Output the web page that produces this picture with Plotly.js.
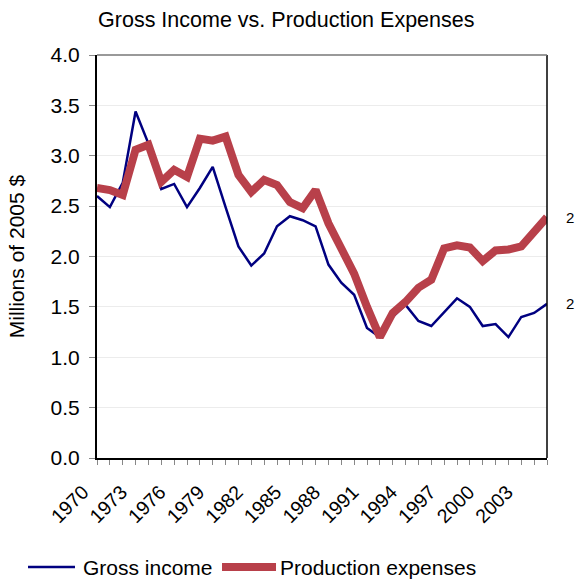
<!DOCTYPE html>
<html>
<head>
<meta charset="utf-8">
<script src="https://cdn.plot.ly/plotly-3.0.1.min.js"></script>
<style>
  html, body { margin: 0; padding: 0; background: #ffffff; }
  #chart { width: 576px; height: 581px; }
</style>
</head>
<body>
<div id="chart"></div>
<script>
const years = [1970,1971,1972,1973,1974,1975,1976,1977,1978,1979,1980,1981,1982,1983,1984,1985,1986,1987,1988,1989,1990,1991,1992,1993,1994,1995,1996,1997,1998,1999,2000,2001,2002,2003,2004,2005];
const grossIncome = [2.60,2.49,2.73,3.44,3.12,2.67,2.72,2.49,2.68,2.89,2.49,2.10,1.91,2.03,2.30,2.40,2.36,2.30,1.92,1.74,1.62,1.29,1.20,1.40,1.52,1.36,1.31,1.45,1.585,1.50,1.31,1.33,1.20,1.40,1.44,1.53];
const productionExpenses = [2.68,2.66,2.61,3.06,3.11,2.74,2.86,2.79,3.17,3.15,3.19,2.81,2.64,2.76,2.71,2.54,2.48,2.66,2.33,2.08,1.83,1.50,1.20,1.44,1.55,1.69,1.77,2.08,2.11,2.09,1.955,2.06,2.07,2.10,2.25,2.39];
const seriesNames = ["Gross income", "Production expenses"];
const seriesColors = ['#000080', '#B8404A'];
const seriesWidths = [2.5, 8];
const yTickVals = [0,0.5,1,1.5,2,2.5,3,3.5,4];
const endLabel = "2";

const FONT = '"Liberation Sans", Arial, sans-serif';

const traces = [
  {
    x: years, y: grossIncome, name: seriesNames[0], type: 'scatter', mode: 'lines',
    line: { color: seriesColors[0], width: seriesWidths[0] }, cliponaxis: false
  },
  {
    x: years, y: productionExpenses, name: seriesNames[1], type: 'scatter', mode: 'lines',
    line: { color: seriesColors[1], width: seriesWidths[1] }, cliponaxis: false
  }
];

// legend geometry (paper coordinates of the plot area)
const legY = -0.2705;
const legendItems = [
  { x0: -0.1533, x1: -0.0489, tx: -0.0333 },
  { x0: 0.2778, x1: 0.3978, tx: 0.4044 }
];

const n = years.length - 1;
const shapes = [
  { type: 'line', xref: 'paper', yref: 'paper', x0: 1, x1: 1, y0: 0, y1: 1, line: { color: '#000000', width: 1.5 } },
  { type: 'line', xref: 'paper', yref: 'paper', x0: 0, x1: 1, y0: 1, y1: 1, line: { color: '#777777', width: 1.5 } }
];
const annotations = [
  { x: years[n], y: productionExpenses[n], xref: 'x', yref: 'y', text: endLabel, showarrow: false,
    xanchor: 'left', yanchor: 'middle', xshift: 17, font: { family: FONT, size: 15, color: '#000000' } },
  { x: years[n], y: grossIncome[n], xref: 'x', yref: 'y', text: endLabel, showarrow: false,
    xanchor: 'left', yanchor: 'middle', xshift: 17, font: { family: FONT, size: 15, color: '#000000' } }
];
legendItems.forEach((it, i) => {
  shapes.push({ type: 'line', xref: 'paper', yref: 'paper', x0: it.x0, x1: it.x1, y0: legY, y1: legY,
    line: { color: seriesColors[i], width: seriesWidths[i] } });
  annotations.push({ xref: 'paper', yref: 'paper', x: it.tx, y: legY, text: seriesNames[i], showarrow: false,
    xanchor: 'left', yanchor: 'middle', borderpad: 0, font: { family: FONT, size: 21, color: '#000000' } });
});

const layout = {
  width: 576, height: 581,
  margin: { l: 97, r: 29, t: 55, b: 123, autoexpand: false },
  paper_bgcolor: '#ffffff', plot_bgcolor: '#ffffff',
  font: { family: FONT, color: '#000000' },
  showlegend: false,
  title: {
    text: 'Gross Income vs. Production Expenses',
    font: { family: FONT, size: 21.5, color: '#000000' },
    x: 0.497, xref: 'container', xanchor: 'center',
    y: 0.966, yref: 'container', yanchor: 'middle'
  },
  xaxis: {
    range: [years[0], years[n]],
    tick0: 1970, dtick: 3, tickmode: 'linear',
    ticks: 'outside', ticklen: 5, tickcolor: '#888888', tickwidth: 1,
    minor: { dtick: 1, ticks: 'outside', ticklen: 5, tickcolor: '#888888', tickwidth: 1, showgrid: false },
    tickangle: -45,
    ticklabelstandoff: 8,
    ticklabelshift: -14,
    tickfont: { family: FONT, size: 19.5, color: '#000000' },
    showline: true, linecolor: '#000000', linewidth: 2,
    showgrid: false, zeroline: false, fixedrange: true, automargin: false
  },
  yaxis: {
    range: [0, 4],
    tickvals: yTickVals, tickformat: '.1f',
    ticks: 'outside', ticklen: 6, tickcolor: '#888888', tickwidth: 1,
    ticklabelstandoff: 5,
    tickfont: { family: FONT, size: 21, color: '#000000' },
    showline: true, linecolor: '#000000', linewidth: 2,
    showgrid: true, gridcolor: '#ececec', gridwidth: 1,
    zeroline: false, fixedrange: true, automargin: false,
    title: { text: 'Millions of 2005 $', font: { family: FONT, size: 21, color: '#000000' }, standoff: 20 }
  },
  shapes: shapes,
  annotations: annotations
};

Plotly.newPlot('chart', traces, layout, { staticPlot: true, displayModeBar: false });
</script>
</body>
</html>
